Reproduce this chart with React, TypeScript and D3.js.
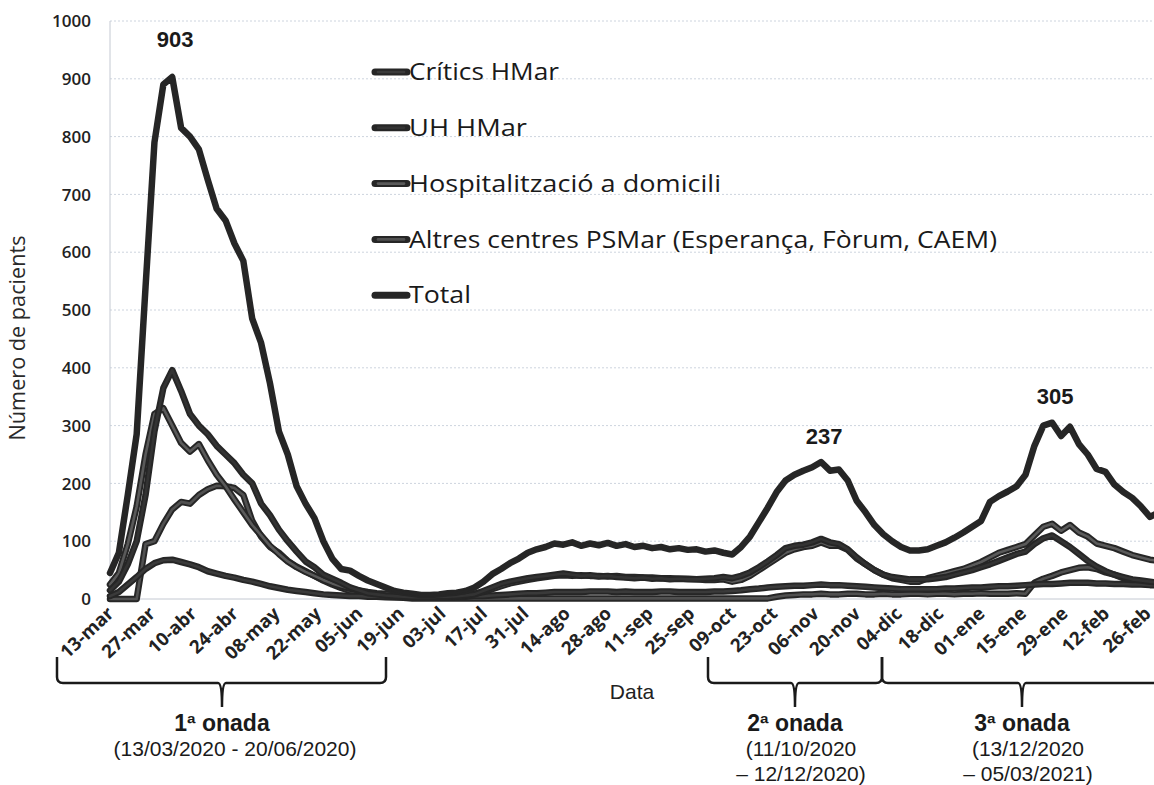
import * as d3 from 'd3';

// daily census sampled every 3 days, starting 13-mar-2020
const STEP_DAYS = 3;
const TICK_STEP_DAYS = 14;

const tickLabels = [
  '13-mar', '27-mar', '10-abr', '24-abr', '08-may', '22-may', '05-jun', '19-jun',
  '03-jul', '17-jul', '31-jul', '14-ago', '28-ago', '11-sep', '25-sep', '09-oct',
  '23-oct', '06-nov', '20-nov', '04-dic', '18-dic', '01-ene', '15-ene', '29-ene',
  '12-feb', '26-feb',
];

const yTicks = [0, 100, 200, 300, 400, 500, 600, 700, 800, 900, 1000];

const criticsValues = [
  5, 12, 25, 38, 52, 62, 67, 68, 64, 60,
  55, 48, 44, 40, 37, 33, 30, 26, 22, 19,
  16, 14, 12, 10, 8, 7, 6, 5, 5, 4,
  4, 3, 3, 3, 3, 3, 3, 3, 3, 4,
  4, 5, 5, 6, 7, 8, 9, 10, 10, 11,
  12, 12, 12, 12, 13, 13, 13, 12, 13, 12,
  12, 12, 13, 13, 12, 12, 12, 12, 13, 13,
  14, 15, 17, 18, 20, 21, 22, 23, 23, 24,
  25, 24, 24, 23, 22, 21, 20, 19, 18, 17,
  17, 17, 17, 17, 18, 18, 19, 20, 20, 21,
  22, 22, 23, 24, 25, 26, 26, 27, 28, 28,
  28, 27, 27, 26, 26, 25, 25, 24, 24, 23,
];

const uhValues = [
  15, 30, 60, 100, 180, 290, 365, 396, 360, 320,
  300, 285, 265, 250, 235, 215, 200, 165, 145, 120,
  100, 82, 65, 55, 42, 35, 28, 20, 15, 10,
  8, 6, 5, 4, 3, 3, 3, 4, 4, 5,
  6, 8, 14, 20, 26, 30, 33, 36, 38, 40,
  42, 44, 42, 40, 41, 39, 40, 38, 37, 36,
  37, 35, 36, 34, 35, 34, 34, 35, 36, 38,
  36, 40, 46, 55, 65, 76, 88, 92, 94, 98,
  104, 98, 95, 86, 72, 60, 50, 42, 38, 36,
  34, 34, 34, 36, 38, 42, 46, 50, 55, 60,
  66, 72, 78, 82, 95, 105, 110, 100, 90, 78,
  66, 56, 48, 42, 38, 34, 32, 30, 28, 26,
];

const homeValues = [
  25, 45, 95, 160, 250, 320, 330, 300, 270, 255,
  268, 240, 215, 195, 172, 150, 128, 110, 92, 78,
  65, 55, 47, 40, 33, 27, 22, 18, 15, 12,
  10, 9, 8, 7, 6, 5, 5, 5, 6, 6,
  7, 9, 12, 17, 22, 27, 30, 33, 36, 38,
  40, 41, 40, 41, 40, 40, 39, 40, 38, 38,
  37, 37, 36, 36, 35, 35, 34, 33, 33, 34,
  30, 33, 40, 50, 60, 70, 80, 86, 90, 92,
  98, 92, 92, 85, 70, 60, 50, 42, 36, 33,
  30, 30, 36, 40, 44, 48, 52, 58, 64, 72,
  80, 85, 90, 95, 110, 125, 130, 118, 128, 115,
  108, 96, 92, 88, 82, 76, 72, 68, 66, 66,
];

const otherValues = [
  0, 0, 0, 0, 95, 100, 130, 155, 168, 165,
  180, 190, 196, 195, 192, 180, 135, 108, 90, 80,
  66, 56, 48, 40, 32, 25, 19, 14, 11, 8,
  6, 4, 3, 2, 1, 1, 1, 1, 1, 1,
  1, 1, 1, 1, 1, 1, 1, 1, 1, 1,
  1, 1, 1, 1, 1, 1, 1, 1, 1, 1,
  1, 1, 1, 1, 1, 1, 1, 1, 1, 1,
  1, 1, 1, 1, 1, 4, 6, 7, 8, 8,
  9, 8, 8, 9, 9, 8, 8, 9, 8, 8,
  9, 9, 8, 9, 9, 8, 9, 9, 10, 9,
  9, 9, 10, 9, 28, 35, 40, 46, 50, 54,
  55, 52, 46, 42, 36, 33, 30, 28, 27, 26,
];

const totalValues = [
  45, 80, 180, 285, 540, 790, 890, 903, 815, 800,
  778, 725, 675, 655, 615, 585, 485, 443, 373, 290,
  250, 195, 165, 140, 100, 70, 52, 49, 40, 32,
  26, 20, 14, 11, 9, 7, 7, 8, 10, 11,
  14, 20, 30, 43, 52, 62, 70, 80, 86, 90,
  96, 94, 98, 92, 96, 93, 97, 92, 95, 90,
  92, 88, 90, 86, 88, 85, 86, 82, 84, 80,
  77, 90, 108, 133, 158, 185, 205, 215, 222, 228,
  237, 222, 224, 205, 170, 150, 128, 112, 100, 90,
  84, 84, 86, 92, 98, 106, 115, 125, 135, 168,
  178, 186, 195, 215, 265, 300, 305, 282, 298, 268,
  250, 225, 220, 198, 185, 175, 160, 142, 150, 155,
];

const seriesNames = [
  'Crítics HMar',
  'UH HMar',
  'Hospitalització a domicili',
  'Altres centres PSMar (Esperança, Fòrum, CAEM)',
  'Total',
];
const seriesValues = [criticsValues, uhValues, homeValues, otherValues, totalValues];
const seriesCores = ['#3a3a3a', '#333333', '#5a5a5a', '#505050', '#262626'];
const legendWidths = [150, 118, 312, 588, 62];
// drawing order: total on top
const drawOrder = [3, 0, 2, 1, 4];

const peakLabels = [903, 237, 305];
const peakLabelOffsets = [30, 18, 19];

const waves = [
  { title: '1ª onada', lines: ['(13/03/2020 - 20/06/2020)'], left: 57, right: 386, mid: 222 },
  { title: '2ª onada', lines: ['(11/10/2020', '– 12/12/2020)'], left: 708, right: 882, mid: 795 },
  { title: '3ª onada', lines: ['(13/12/2020', '– 05/03/2021)'], left: 882, right: 1160, mid: 1022 },
];

const WIDTH = 1154;
const HEIGHT = 785;
const PLOT_LEFT = 110;
const PLOT_BOTTOM = 599;
const PLOT_TOP = 21;
const SANS = '"Open Sans", "Noto Sans", sans-serif';
const ARIAL = '"Liberation Sans", Arial, sans-serif';
const INK = '#262626';

export default function App() {
  const x = d3.scaleLinear().domain([0, 350]).range([PLOT_LEFT, 1147]);
  const y = d3.scaleLinear().domain([0, 1000]).range([PLOT_BOTTOM, PLOT_TOP]);

  const line = d3
    .line<number>()
    .x((_, i) => x(i * STEP_DAYS))
    .y((v) => y(v))
    .curve(d3.curveLinear);

  const bracePath = (w: (typeof waves)[number], top: number, base: number, tip: number) => {
    const r = 6;
    return [
      `M${w.left},${top}`,
      `L${w.left},${base - r}`,
      `Q${w.left},${base} ${w.left + r},${base}`,
      `L${w.mid - 4},${base}`,
      `Q${w.mid},${base} ${w.mid},${tip}`,
      `Q${w.mid},${base} ${w.mid + 4},${base}`,
      `L${w.right - r},${base}`,
      `Q${w.right},${base} ${w.right},${base - r}`,
      `L${w.right},${top}`,
    ].join(' ');
  };

  return (
    <div style={{ position: 'fixed', left: 0, top: 0, background: '#fff' }}>
      <svg width={WIDTH} height={HEIGHT} style={{ display: 'block' }}>
        <rect width={WIDTH} height={HEIGHT} fill="#ffffff" />

        {/* gridlines */}
        {yTicks.map((t) => (
          <line
            key={`g${t}`}
            x1={PLOT_LEFT}
            x2={WIDTH}
            y1={y(t)}
            y2={y(t)}
            stroke={t === 0 ? '#c4c9d2' : '#cdd4de'}
            strokeWidth={1}
            strokeDasharray={t === 0 ? undefined : '2,2'}
          />
        ))}
        <line x1={PLOT_LEFT} x2={PLOT_LEFT} y1={PLOT_TOP} y2={PLOT_BOTTOM} stroke="#c4c9d2" />

        {/* y tick labels */}
        {yTicks.map((t) => (
          <text
            key={`yl${t}`}
            x={91}
            y={y(t)}
            dy="0.36em"
            textAnchor="end"
            fontFamily={SANS}
            fontWeight={600}
            fontSize={17}
            fill="#222"
          >
            {t}
          </text>
        ))}

        <text
          transform={`translate(25,338) rotate(-90)`}
          textAnchor="middle"
          fontFamily={SANS}
          fontSize={21}
          textLength={205}
          lengthAdjust="spacingAndGlyphs"
          fill="#2a2a2a"
        >
          Número de pacients
        </text>

        {/* x tick labels */}
        {tickLabels.map((label, i) => {
          const tx = x(i * TICK_STEP_DAYS) + 5;
          const ty = 615;
          return (
            <text
              key={label}
              transform={`translate(${tx},${ty}) rotate(-43)`}
              textAnchor="end"
              fontFamily={SANS}
              fontWeight={700}
              fontSize={18.5}
              fill="#222"
            >
              {label}
            </text>
          );
        })}

        <text x={632} y={699} textAnchor="middle" fontFamily={ARIAL} fontSize={21} fill="#222">
          Data
        </text>

        {/* series: dark outer stroke with a lighter core, like the scanned original */}
        {drawOrder.map((si) => {
          const d = line(seriesValues[si]) ?? '';
          return (
            <g key={seriesNames[si]}>
              <path
                d={d}
                fill="none"
                stroke={INK}
                strokeWidth={6.5}
                strokeLinejoin="round"
                strokeLinecap="round"
              />
              <path
                d={d}
                fill="none"
                stroke={seriesCores[si]}
                strokeWidth={2.6}
                strokeLinejoin="round"
                strokeLinecap="round"
              />
            </g>
          );
        })}

        {/* peak labels */}
        {peakLabels.map((v, k) => {
          const idx = totalValues.indexOf(v);
          return (
            <text
              key={`p${v}`}
              x={x(idx * STEP_DAYS) + 3}
              y={y(v) - peakLabelOffsets[k]}
              textAnchor="middle"
              fontFamily={ARIAL}
              fontWeight={700}
              fontSize={22}
              fill="#1a1a1a"
            >
              {v}
            </text>
          );
        })}

        {/* legend */}
        {seriesNames.map((name, i) => {
          const ly = 72 + i * 55.8;
          return (
            <g key={`lg${name}`}>
              <line
                x1={375}
                x2={407}
                y1={ly}
                y2={ly}
                stroke={INK}
                strokeWidth={7}
                strokeLinecap="round"
              />
              <line
                x1={378}
                x2={404}
                y1={ly}
                y2={ly}
                stroke={seriesCores[i]}
                strokeWidth={2.6}
                strokeLinecap="round"
              />
              <text
                x={409}
                y={ly}
                dy="0.36em"
                fontFamily={SANS}
                fontSize={23}
                textLength={legendWidths[i]}
                lengthAdjust="spacingAndGlyphs"
                fill="#1a1a1a"
              >
                {name}
              </text>
            </g>
          );
        })}

        {/* wave braces */}
        {waves.map((w) => (
          <g key={w.title}>
            <path
              d={bracePath(w, 657, 683, 707)}
              fill="none"
              stroke="#1a1a1a"
              strokeWidth={2.5}
            />
            <text
              x={w.mid}
              y={731}
              textAnchor="middle"
              fontFamily={ARIAL}
              fontWeight={700}
              fontSize={23}
              fill="#1a1a1a"
            >
              {w.title}
            </text>
            {w.lines.map((l, j) => (
              <text
                key={l}
                x={w.mid + (j === 0 && w.lines.length === 1 ? 13 : 6)}
                y={756 + j * 25}
                textAnchor="middle"
                fontFamily={ARIAL}
                fontSize={21}
                fill="#1a1a1a"
              >
                {l}
              </text>
            ))}
          </g>
        ))}
      </svg>
    </div>
  );
}
